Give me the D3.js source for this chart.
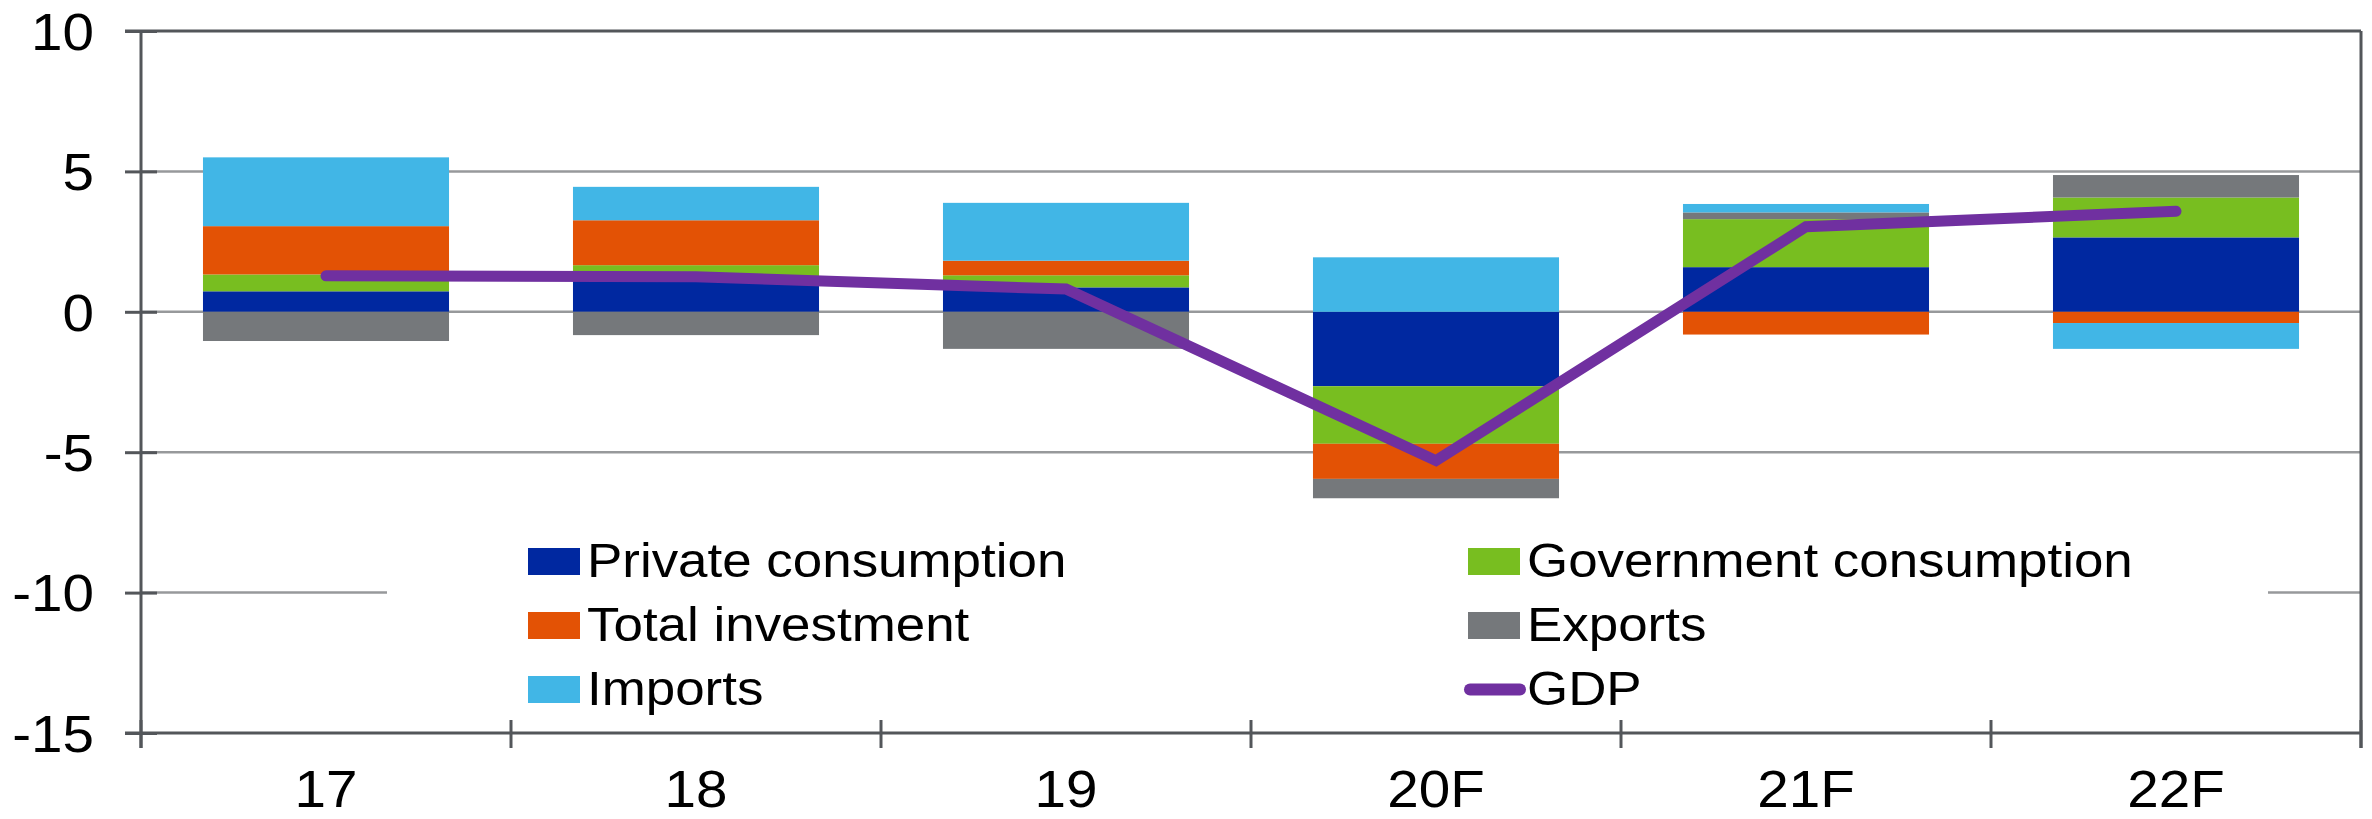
<!DOCTYPE html>
<html>
<head>
<meta charset="utf-8">
<script src="https://cdn.jsdelivr.net/npm/d3@7"></script>
<style>
  html, body { margin: 0; padding: 0; background: #ffffff; }
  svg { display: block; }
  text { font-family: "Liberation Sans", Arial, sans-serif; fill: #000; }
</style>
</head>
<body>
<svg id="chart" width="2372" height="819"></svg>
<script>
// Contributions to GDP growth, percentage points
const categories = ["17", "18", "19", "20F", "21F", "22F"];
const privateConsumption    = [0.73, 1.15, 0.87, -2.65, 1.59, 2.65];
const governmentConsumption = [0.60, 0.51, 0.43, -2.05, 1.71, 1.42];
const totalInvestment       = [1.72, 1.60, 0.52, -1.25, -0.81, -0.40];
const exportsContribution   = [-1.04, -0.83, -1.32, -0.69, 0.24, 0.80];
const importsContribution   = [2.45, 1.19, 2.06, 1.94, 0.30, -0.92];
const gdpGrowth             = [1.28, 1.25, 0.81, -5.30, 3.03, 3.58];
const yTickValues = [10, 5, 0, -5, -10, -15];
const yTickLabels = ["10", "5", "0", "-5", "-10", "-15"];

const seriesNames = ["Private consumption", "Government consumption", "Total investment", "Exports", "Imports"];
const seriesValues = [privateConsumption, governmentConsumption, totalInvestment, exportsContribution, importsContribution];
const seriesColors = ["#0028a0", "#78be20", "#e35205", "#75787b", "#41b6e6"];
const gdpColor = "#7030a0";

const svg = d3.select("#chart");
const plotLeft = 141, plotRight = 2361, plotTop = 31, plotBottom = 733;
const axisColor = "#53565a", gridColor = "#97999b";
const stretch = 1.08, tickStretch = 1.11;

const x = d3.scaleBand().domain(categories).range([plotLeft, plotRight]).padding(0);
const y = d3.scaleLinear().domain([-15, 10]).range([plotBottom, plotTop]);
const barW = x.bandwidth() * 0.665;

// Gridlines
svg.append("g").selectAll("line")
  .data(yTickValues.filter(v => v !== 10 && v !== -15))
  .join("line")
  .attr("x1", plotLeft).attr("x2", plotRight)
  .attr("y1", d => y(d)).attr("y2", d => y(d))
  .attr("stroke", gridColor).attr("stroke-width", 2.5);

// Stacked bars (diverging around zero)
const rows = categories.map((c, i) => {
  const r = { cat: c };
  seriesNames.forEach((n, k) => r[n] = seriesValues[k][i]);
  return r;
});
const stack = d3.stack().keys(seriesNames).offset(d3.stackOffsetDiverging).order(d3.stackOrderNone);
const layers = stack(rows);

svg.append("g").selectAll("g")
  .data(layers)
  .join("g")
  .attr("fill", (d, i) => seriesColors[i])
  .selectAll("rect")
  .data(d => d)
  .join("rect")
  .attr("x", d => x(d.data.cat) + (x.bandwidth() - barW) / 2)
  .attr("width", barW)
  .attr("y", d => y(Math.max(d[0], d[1])))
  .attr("height", d => Math.abs(y(d[0]) - y(d[1])));

// Legend
const legend = svg.append("g");
legend.append("rect")
  .attr("x", 387).attr("y", 520).attr("width", 2268 - 387).attr("height", 198)
  .attr("fill", "#ffffff");

const legendItems = [
  { name: "Private consumption", color: seriesColors[0], col: 0, row: 0 },
  { name: "Government consumption", color: seriesColors[1], col: 1, row: 0 },
  { name: "Total investment", color: seriesColors[2], col: 0, row: 1 },
  { name: "Exports", color: seriesColors[3], col: 1, row: 1 },
  { name: "Imports", color: seriesColors[4], col: 0, row: 2 },
  { name: "GDP", color: gdpColor, col: 1, row: 2, line: true }
];
const colX = [528, 1468];
const rowY = [548, 612, 676];
legendItems.forEach(it => {
  const lx = colX[it.col], ly = rowY[it.row];
  if (it.line) {
    legend.append("line")
      .attr("x1", lx + 2).attr("x2", lx + 52)
      .attr("y1", ly + 13.5).attr("y2", ly + 13.5)
      .attr("stroke", it.color).attr("stroke-width", 12)
      .attr("stroke-linecap", "round");
  } else {
    legend.append("rect")
      .attr("x", lx).attr("y", ly).attr("width", 52).attr("height", 27)
      .attr("fill", it.color);
  }
  legend.append("text")
    .attr("transform", `translate(${lx + 59},${ly + 29}) scale(${stretch},1)`)
    .attr("font-size", 49)
    .text(it.name);
});

// GDP line
svg.append("path")
  .datum(gdpGrowth)
  .attr("fill", "none")
  .attr("stroke", gdpColor)
  .attr("stroke-width", 11)
  .attr("stroke-linecap", "round")
  .attr("stroke-linejoin", "miter")
  .attr("d", d3.line()
    .x((d, i) => x(categories[i]) + x.bandwidth() / 2)
    .y(d => y(d)));

// Frame: top and right borders
svg.append("line").attr("x1", plotLeft - 16).attr("x2", plotRight).attr("y1", plotTop).attr("y2", plotTop)
  .attr("stroke", axisColor).attr("stroke-width", 3);
svg.append("line").attr("x1", plotRight).attr("x2", plotRight).attr("y1", plotTop).attr("y2", plotBottom + 15)
  .attr("stroke", axisColor).attr("stroke-width", 3);

// Y axis
const yAxis = svg.append("g")
  .attr("transform", `translate(${plotLeft},0)`)
  .call(d3.axisLeft(y).tickValues(yTickValues).tickSize(16)
    .tickFormat(d => yTickLabels[yTickValues.indexOf(d)]));
yAxis.select(".domain").remove();
yAxis.selectAll(".tick line").attr("x2", -16).attr("x1", 16)
  .attr("stroke", axisColor).attr("stroke-width", 3);
yAxis.selectAll(".tick text")
  .attr("x", 0).attr("dy", "0.36em")
  .attr("transform", `translate(-47,0) scale(${tickStretch},1)`)
  .attr("font-size", 51)
  .attr("font-family", "\"Liberation Sans\", Arial, sans-serif")
  .attr("fill", "#000");
svg.append("line").attr("x1", plotLeft).attr("x2", plotLeft).attr("y1", plotTop).attr("y2", plotBottom + 15)
  .attr("stroke", axisColor).attr("stroke-width", 3);

// X axis
const xAxis = svg.append("g")
  .attr("transform", `translate(0,${plotBottom})`)
  .call(d3.axisBottom(x).tickSize(0));
xAxis.select(".domain").remove();
xAxis.selectAll(".tick text")
  .attr("y", 0).attr("dy", 0)
  .attr("transform", `translate(0,74) scale(${tickStretch},1)`)
  .attr("font-size", 51)
  .attr("font-family", "\"Liberation Sans\", Arial, sans-serif")
  .attr("fill", "#000");
svg.append("line").attr("x1", plotLeft - 16).attr("x2", plotRight).attr("y1", plotBottom).attr("y2", plotBottom)
  .attr("stroke", axisColor).attr("stroke-width", 3);

// Category boundary ticks
const boundaries = categories.map(c => x(c)).concat([plotRight]);
svg.append("g").selectAll("line")
  .data(boundaries)
  .join("line")
  .attr("x1", d => d).attr("x2", d => d)
  .attr("y1", plotBottom - 13).attr("y2", plotBottom + 15)
  .attr("stroke", axisColor).attr("stroke-width", 3);
</script>
</body>
</html>
